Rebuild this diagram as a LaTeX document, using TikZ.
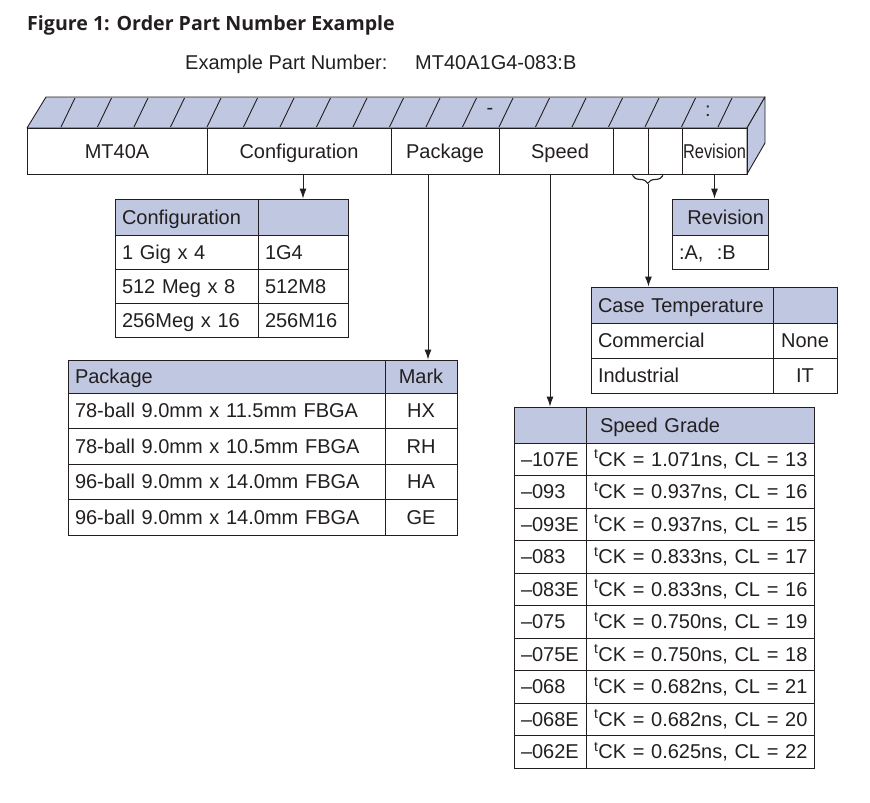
\documentclass[tikz,border=0pt]{standalone}
\usepackage{fontspec}
\setmainfont{Liberation Sans}
\newfontfamily\titlefont{Open Sans}
\usetikzlibrary{arrows.meta,decorations.pathreplacing}
\definecolor{ink}{RGB}{35,31,32}
\definecolor{lav}{RGB}{192,199,225}
\begin{document}
\begin{tikzpicture}[
    x=1pt, y=-1pt,
    every node/.style={font=\fontsize{20}{24}\selectfont, text=ink},
    cell/.style={
        rectangle,
        draw=ink,
        line width=0.9pt,
        inner xsep=7pt,
        inner ysep=0pt,
        text height=14pt,
        text depth=0pt,
        align=left
    },
    hdr/.style={cell, fill=lav},
    seg/.style={
        rectangle,
        draw=ink,
        line width=0.9pt,
        inner sep=0pt,
        minimum height=46pt,
        text height=14pt,
        text depth=0pt
    },
    face/.style={draw=ink, line width=0.9pt, fill=lav, line join=round},
    tick/.style={draw=ink, line width=0.9pt},
    arrow/.style={
        -{Latex[length=10pt,width=7pt]},
        line width=0.9pt,
        draw=ink
    }
]
\useasboundingbox (0,0) rectangle (870,803);

% Title
\node[anchor=base west, inner sep=0pt, font=\titlefont\bfseries\fontsize{19.6}{23}\selectfont] (title) at (27,30) {Figure 1: Order Part Number Example};
\node[anchor=base west, inner sep=0pt] (exlabel) at (185,69) {Example Part Number:};
\node[anchor=base west, inner sep=0pt] (expart) at (415,69) {MT40A1G4-083:B};

% Part number bar
\draw[face] (27,128) -- (46,97) -- (765,97) -- (747,128) -- cycle;
\draw[face] (747,128) -- (765,97) -- (765,143) -- (747,174) -- cycle;
\foreach \k in {1,...,19}
    \draw[tick] ({24.5+36.5*\k},127) -- ++(14,-29);
\node (dash) at (490,111) {-};
\node (colon) at (708,111) {:};

\node[seg, minimum width=180pt] (pMT) at (117,151) {MT40A};
\node[seg, minimum width=184pt] (pCfg) at (299,151) {Configuration};
\node[seg, minimum width=108pt] (pPkg) at (445,151) {Package};
\node[seg, minimum width=114pt] (pSpd) at (556,151) {\hspace{8pt}Speed};
\node[seg, minimum width=35pt] (pT1) at (630.5,151) {};
\node[seg, minimum width=34pt] (pT2) at (665,151) {};
\node[seg, minimum width=65pt] (pRev) at (714.5,151) {\scalebox{0.82}[1]{Revision}};

% Configuration table
\node[hdr, text width=129pt, minimum height=36pt] (cfgH1) at (186.5,217) {Configuration};
\node[hdr, minimum width=90pt, minimum height=36pt] (cfgH2) at (303,217) {};
\node[cell, text width=129pt, minimum height=34pt] (cfgA1) at (186.5,252) {1 Gig x 4};
\node[cell, text width=76pt, minimum height=34pt] (cfgB1) at (303,252) {1G4};
\node[cell, text width=129pt, minimum height=34pt] (cfgA2) at (186.5,286) {512 Meg x 8};
\node[cell, text width=76pt, minimum height=34pt] (cfgB2) at (303,286) {512M8};
\node[cell, text width=129pt, minimum height=34pt] (cfgA3) at (186.5,320) {256Meg x 16};
\node[cell, text width=76pt, minimum height=34pt] (cfgB3) at (303,320) {256M16};

% Revision table
\node[hdr, inner xsep=4pt, text width=88pt, align=right, minimum height=36pt] (revH) at (720,217) {Revision};
\node[cell, text width=82pt, minimum height=34pt] (revR) at (720,252) {:A,\ \ :B};

% Case temperature table
\node[hdr, text width=168pt, minimum height=36pt] (caseH1) at (682,305) {Case Temperature};
\node[hdr, minimum width=64pt, minimum height=36pt] (caseH2) at (805,305) {};
\node[cell, text width=168pt, minimum height=35pt] (caseA1) at (682,340.5) {Commercial};
\node[cell, align=center, minimum width=64pt, minimum height=35pt] (caseB1) at (805,340.5) {None};
\node[cell, text width=168pt, minimum height=35pt] (caseA2) at (682,375.5) {Industrial};
\node[cell, align=center, minimum width=64pt, minimum height=35pt] (caseB2) at (805,375.5) {IT};

% Package table
\node[hdr, text width=303pt, minimum height=33pt] (pkgH1) at (226.5,376.5) {Package};
\node[hdr, align=center, minimum width=72pt, minimum height=33pt] (pkgH2) at (421,376.5) {Mark};
\node[cell, text width=303pt, minimum height=35.5pt] (pkgA1) at (226.5,410.75) {78-ball 9.0mm x 11.5mm FBGA};
\node[cell, align=center, minimum width=72pt, minimum height=35.5pt] (pkgB1) at (421,410.75) {HX};
\node[cell, text width=303pt, minimum height=35.5pt] (pkgA2) at (226.5,446.25) {78-ball 9.0mm x 10.5mm FBGA};
\node[cell, align=center, minimum width=72pt, minimum height=35.5pt] (pkgB2) at (421,446.25) {RH};
\node[cell, text width=303pt, minimum height=35.5pt] (pkgA3) at (226.5,481.75) {96-ball 9.0mm x 14.0mm FBGA};
\node[cell, align=center, minimum width=72pt, minimum height=35.5pt] (pkgB3) at (421,481.75) {HA};
\node[cell, text width=303pt, minimum height=35.5pt] (pkgA4) at (226.5,517.25) {96-ball 9.0mm x 14.0mm FBGA};
\node[cell, align=center, minimum width=72pt, minimum height=35.5pt] (pkgB4) at (421,517.25) {GE};

% Speed grade table
\node[hdr, minimum width=72pt, minimum height=36pt] (spdH1) at (550,425) {};
\node[hdr, inner xsep=14pt, text width=200pt, minimum height=36pt] (spdH2) at (700,425) {Speed Grade};
\node[cell, text width=58pt, minimum height=32.5pt] (spdA1) at (550,459.25) {--107E};
\node[cell, inner xsep=8pt, text width=212pt, minimum height=32.5pt] (spdB1) at (700,459.25) {\mbox{\textsuperscript{t}CK = 1.071ns, CL = 13}};
\node[cell, text width=58pt, minimum height=32.5pt] (spdA2) at (550,491.75) {--093};
\node[cell, inner xsep=8pt, text width=212pt, minimum height=32.5pt] (spdB2) at (700,491.75) {\mbox{\textsuperscript{t}CK = 0.937ns, CL = 16}};
\node[cell, text width=58pt, minimum height=32.5pt] (spdA3) at (550,524.25) {--093E};
\node[cell, inner xsep=8pt, text width=212pt, minimum height=32.5pt] (spdB3) at (700,524.25) {\mbox{\textsuperscript{t}CK = 0.937ns, CL = 15}};
\node[cell, text width=58pt, minimum height=32.5pt] (spdA4) at (550,556.75) {--083};
\node[cell, inner xsep=8pt, text width=212pt, minimum height=32.5pt] (spdB4) at (700,556.75) {\mbox{\textsuperscript{t}CK = 0.833ns, CL = 17}};
\node[cell, text width=58pt, minimum height=32.5pt] (spdA5) at (550,589.25) {--083E};
\node[cell, inner xsep=8pt, text width=212pt, minimum height=32.5pt] (spdB5) at (700,589.25) {\mbox{\textsuperscript{t}CK = 0.833ns, CL = 16}};
\node[cell, text width=58pt, minimum height=32.5pt] (spdA6) at (550,621.75) {--075};
\node[cell, inner xsep=8pt, text width=212pt, minimum height=32.5pt] (spdB6) at (700,621.75) {\mbox{\textsuperscript{t}CK = 0.750ns, CL = 19}};
\node[cell, text width=58pt, minimum height=32.5pt] (spdA7) at (550,654.25) {--075E};
\node[cell, inner xsep=8pt, text width=212pt, minimum height=32.5pt] (spdB7) at (700,654.25) {\mbox{\textsuperscript{t}CK = 0.750ns, CL = 18}};
\node[cell, text width=58pt, minimum height=32.5pt] (spdA8) at (550,686.75) {--068};
\node[cell, inner xsep=8pt, text width=212pt, minimum height=32.5pt] (spdB8) at (700,686.75) {\mbox{\textsuperscript{t}CK = 0.682ns, CL = 21}};
\node[cell, text width=58pt, minimum height=32.5pt] (spdA9) at (550,719.25) {--068E};
\node[cell, inner xsep=8pt, text width=212pt, minimum height=32.5pt] (spdB9) at (700,719.25) {\mbox{\textsuperscript{t}CK = 0.682ns, CL = 20}};
\node[cell, text width=58pt, minimum height=32.5pt] (spdA10) at (550,751.75) {--062E};
\node[cell, inner xsep=8pt, text width=212pt, minimum height=32.5pt] (spdB10) at (700,751.75) {\mbox{\textsuperscript{t}CK = 0.625ns, CL = 22}};

% Connections
\coordinate (pkgTap) at (428,174);
\coordinate (brTip) at ([yshift=-10pt]pT1.south east);
\draw[arrow] (pCfg.south -| cfgH2) -- (cfgH2.north);
\draw[arrow] (pkgTap) -- (pkgTap |- pkgH2.north);
\draw[arrow] (pSpd.south -| spdH1) -- (spdH1.north);
\draw[arrow] (pRev.south) -- (pRev.south |- revH.north);
\draw[ink, line width=1.1pt, decorate, decoration={brace, mirror, amplitude=8pt}]
    ([xshift=2pt, yshift=-1pt]pT1.south) -- ([xshift=-2pt, yshift=-1pt]pT2.south);
\draw[arrow] (brTip) -- (brTip |- caseH1.north);
\end{tikzpicture}
\end{document}
